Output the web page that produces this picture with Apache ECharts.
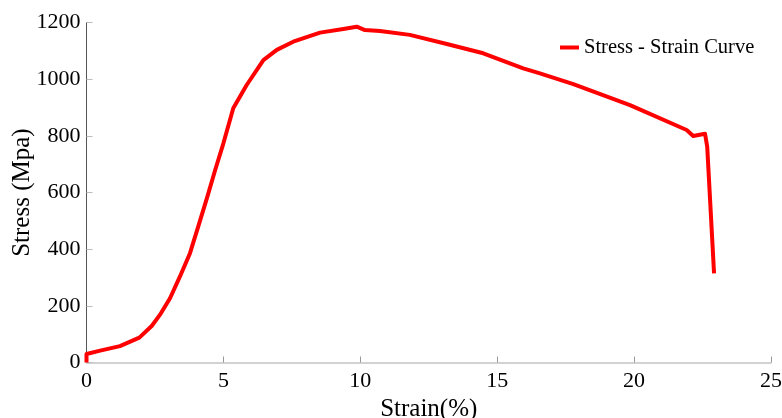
<!DOCTYPE html>
<html>
<head>
<meta charset="utf-8">
<script src="https://cdn.jsdelivr.net/npm/echarts@6/dist/echarts.min.js"></script>
<style>
  html, body { margin: 0; padding: 0; background: #fff; }
  #chart { width: 782px; height: 418px; }
</style>
</head>
<body>
<div id="chart"></div>
<script>
// Engineering stress-strain record of the tensile specimen
const strain = [0, 0, 0.5, 1.22, 1.93, 2.38, 2.68, 3.05, 3.41, 3.78, 4.08, 4.39, 4.7, 5.0, 5.36,
  5.85, 6.46, 6.95, 7.55, 8.53, 9.38, 9.87, 10.17, 10.72, 11.81, 13.16, 14.49, 15.95, 16.56,
  17.78, 19.85, 21.92, 22.16, 22.59, 22.67, 22.92];
const stress = [0, 30, 42, 58, 88, 129, 168, 227, 303, 386, 480, 578, 680, 774, 898,
  980, 1068, 1104, 1133, 1165, 1178, 1186, 1174, 1171, 1157, 1125, 1092, 1039, 1021,
  983, 909, 821, 800, 808, 762, 315];
const seriesName = 'Stress - Strain Curve';
const xTicks = [0, 5, 10, 15, 20, 25];
const yTicks = [0, 200, 400, 600, 800, 1000, 1200];

const points = strain.map((s, i) => [s, stress[i]]);
const serif = '"Liberation Serif", "Times New Roman", serif';

const chart = echarts.init(document.getElementById('chart'), null, { renderer: 'canvas' });
chart.setOption({
  animation: false,
  backgroundColor: '#ffffff',
  grid: { left: 86.5, right: 11, top: 22.7, bottom: 55.5, containLabel: false, outerBoundsMode: 'none' },
  legend: {
    data: [{ name: seriesName, icon: 'rect' }],
    left: 555,
    top: 32,
    itemWidth: 19,
    itemHeight: 4,
    itemGap: 0,
    textStyle: { fontFamily: serif, fontSize: 20.5, color: '#000' }
  },
  xAxis: {
    type: 'value',
    min: xTicks[0],
    max: xTicks[xTicks.length - 1],
    interval: 5,
    name: 'Strain(%)',
    nameLocation: 'middle',
    nameGap: 34,
    nameMoveOverlap: false,
    nameTextStyle: { fontFamily: serif, fontSize: 25, color: '#000' },
    axisLine: { lineStyle: { color: '#c4c4c4', width: 1.5 } },
    axisTick: { inside: true, length: 6, lineStyle: { color: '#999' } },
    axisLabel: { fontFamily: serif, fontSize: 22, color: '#000', margin: 8, formatter: v => String(v) },
    splitLine: { show: false }
  },
  yAxis: {
    type: 'value',
    min: yTicks[0],
    max: yTicks[yTicks.length - 1],
    interval: 200,
    name: 'Stress (Mpa)',
    nameLocation: 'middle',
    nameGap: 52,
    nameMoveOverlap: false,
    nameTextStyle: { fontFamily: serif, fontSize: 25, color: '#000' },
    axisLine: { show: true, lineStyle: { color: '#555', width: 1 } },
    axisTick: { show: true, inside: true, length: 6, lineStyle: { color: '#bbb' } },
    axisLabel: { fontFamily: serif, fontSize: 22, color: '#000', margin: 6, formatter: v => String(v) },
    splitLine: { show: false }
  },
  series: [{
    name: seriesName,
    type: 'line',
    data: points,
    showSymbol: false,
    symbol: 'none',
    color: '#ff0000',
    lineStyle: { color: '#ff0000', width: 4, join: 'round' },
    clip: false
  }]
});
</script>
</body>
</html>
